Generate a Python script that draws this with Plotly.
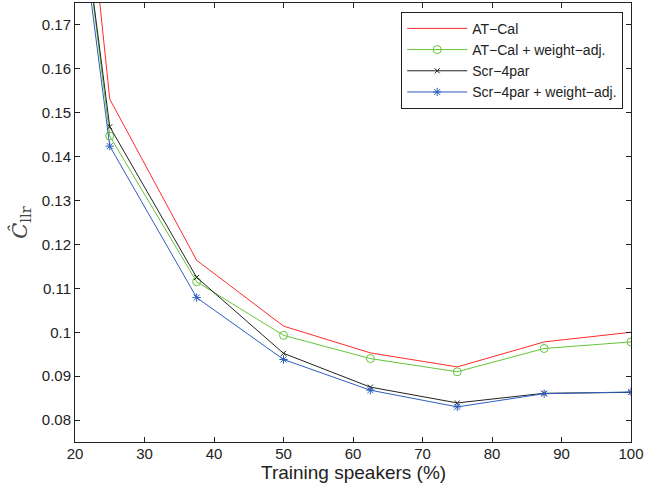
import plotly.graph_objects as go

x_pct = [12.5, 25, 37.5, 50, 62.5, 75, 87.5, 100]
at_cal = [0.345, 0.1531, 0.1164, 0.1014, 0.0953, 0.0921, 0.0978, 0.1000]
at_cal_wa = [0.305, 0.1447, 0.1115, 0.0993, 0.0940, 0.0910, 0.0963, 0.0978]
scr4 = [0.300, 0.1468, 0.1125, 0.0952, 0.0875, 0.0839, 0.0861, 0.0863]
scr4_wa = [0.297, 0.1424, 0.1079, 0.0938, 0.0868, 0.0830, 0.0860, 0.0864]

y_ticks = [0.08, 0.09, 0.10, 0.11, 0.12, 0.13, 0.14, 0.15, 0.16, 0.17]
y_ticktext = ["0.08", "0.09", "0.1", "0.11", "0.12", "0.13", "0.14", "0.15", "0.16", "0.17"]
x_ticks = [20, 30, 40, 50, 60, 70, 80, 90, 100]
x_title = "Training speakers (%)"

fig = go.Figure()
fig.add_trace(go.Scatter(x=x_pct, y=at_cal, name="AT\u2212Cal", mode="lines",
                         line=dict(color="#ff2a2a", width=1)))
fig.add_trace(go.Scatter(x=x_pct, y=at_cal_wa, name="AT\u2212Cal + weight\u2212adj.", mode="lines+markers",
                         line=dict(color="#66c43a", width=1),
                         marker=dict(symbol="circle-open", size=8, color="#66c43a", line=dict(width=1))))
fig.add_trace(go.Scatter(x=x_pct, y=scr4, name="Scr\u22124par", mode="lines+markers",
                         line=dict(color="#222222", width=1),
                         marker=dict(symbol="x-thin-open", size=5, color="#222222", line=dict(width=1, color="#222222"))))
fig.add_trace(go.Scatter(x=x_pct, y=scr4_wa, name="Scr\u22124par + weight\u2212adj.", mode="lines+markers",
                         line=dict(color="#2e5fbf", width=1),
                         marker=dict(symbol="asterisk-open", size=7, color="#2e5fbf", line=dict(width=1, color="#2e5fbf"))))

axis_common = dict(showgrid=False, zeroline=False, showline=True, linecolor="#222222", linewidth=1,
                   mirror="ticks", ticks="inside", ticklen=5, tickcolor="#222222",
                   tickfont=dict(family="Liberation Sans, Arial, sans-serif", size=15, color="#222222"))

fig.update_layout(
    width=665, height=490,
    margin=dict(l=75, r=34, t=3, b=48),
    paper_bgcolor="white", plot_bgcolor="white",
    xaxis=dict(range=[20, 100], tickvals=x_ticks, ticklabelstandoff=-2, **axis_common),
    yaxis=dict(range=[0.075, 0.175], tickvals=y_ticks, ticktext=y_ticktext,
               title=dict(text="<i>\u0108</i><sub>llr</sub>", standoff=8,
                          font=dict(family="DejaVu Serif, serif", size=21, color="#444444")),
               **axis_common),
    legend=dict(x=0.986, y=0.98, xanchor="right", yanchor="top",
                bgcolor="white", bordercolor="#222222", borderwidth=1,
                font=dict(family="Liberation Sans, Arial, sans-serif", size=14, color="#222222"),
                tracegroupgap=0, itemwidth=60),
    showlegend=True,
    annotations=[dict(text=x_title, xref="paper", yref="paper", x=0.5, y=-0.069,
                      xanchor="center", yanchor="middle", showarrow=False,
                      font=dict(family="Liberation Sans, Arial, sans-serif", size=19, color="#222222"))],
)

fig.write_html("out.html", config={"displayModeBar": False},
               post_script="document.body.style.margin='0';document.body.style.overflow='hidden';")
